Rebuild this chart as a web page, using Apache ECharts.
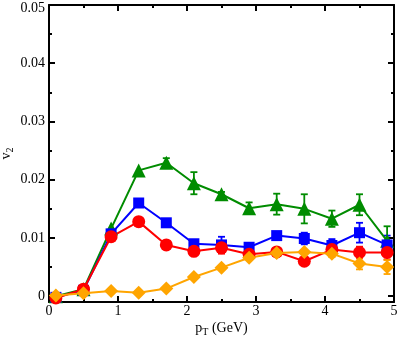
<!DOCTYPE html>
<html>
<head>
<meta charset="utf-8">
<script src="https://cdn.jsdelivr.net/npm/echarts@6/dist/echarts.min.js"></script>
<style>
    html, body {margin: 0; padding: 0; background: #fff;}
    #v2chart {width: 399px; height: 338px;}
</style>
</head>
<body>
<div id="v2chart"></div>
<script>
// pT bins (GeV)
let ptBins = [0.1, 0.5, 0.9, 1.3, 1.7, 2.1, 2.5, 2.9, 3.3, 3.7, 4.1, 4.5, 4.9];

// v2 values, with their vertical errors
let greenV2 = [0.0000, 0.0012, 0.0116, 0.0216, 0.0229, 0.0194, 0.0175, 0.0151, 0.0158, 0.0150, 0.0133, 0.0157, 0.0095];
let greenErr = [0, 0, 0, 0, 0.0008, 0.0019, 0.0004, 0.0010, 0.0018, 0.0025, 0.0014, 0.0018, 0.0025];
let blueV2 = [-0.0002, 0.0010, 0.0107, 0.0160, 0.0126, 0.0090, 0.0088, 0.0084, 0.0104, 0.0099, 0.0087, 0.0109, 0.0088];
let blueErr = [0, 0, 0, 0, 0, 0, 0.0014, 0, 0, 0.0010, 0.0011, 0.0017, 0.0016];
let redV2 = [-0.0003, 0.0012, 0.0102, 0.0128, 0.0088, 0.0077, 0.0083, 0.0072, 0.0076, 0.0060, 0.0080, 0.0075, 0.0075];
let redErr = [0, 0, 0, 0, 0, 0, 0.0010, 0, 0, 0, 0.0006, 0.0010, 0.0012];
let orangeV2 = [0.0001, 0.0005, 0.0009, 0.0006, 0.0013, 0.0033, 0.0049, 0.0066, 0.0074, 0.0076, 0.0073, 0.0056, 0.0050];
let orangeErr = [0, 0, 0, 0, 0, 0, 0, 0, 0, 0, 0.0006, 0.0010, 0.0012];

let yMajor = [0, 0.01, 0.02, 0.03, 0.04, 0.05];
let yMinor = [0.005, 0.015, 0.025, 0.035, 0.045];

let font = "Liberation Serif";

function pairs(vals) {
    return ptBins.map(function (x, i) {
        return [x, vals[i]];
    });
}

function errBars(vals, errs) {
    let out = [];
    ptBins.forEach(function (x, i) {
        if (errs[i] > 0) {
            out.push([x, vals[i] - errs[i], vals[i] + errs[i]]);
        }
    });
    return out;
}

function errSeries(vals, errs, color) {
    return {
        type: "custom",
        xAxisIndex: 0,
        yAxisIndex: 0,
        silent: true,
        z: 1,
        data: errBars(vals, errs),
        renderItem: function (params, api) {
            let lo = api.coord([api.value(0), api.value(1)]);
            let hi = api.coord([api.value(0), api.value(2)]);
            let w = 3.5;
            let st = {stroke: color, lineWidth: 1.8};
            return {
                type: "group",
                children: [
                    {type: "line", shape: {x1: lo[0], y1: lo[1], x2: hi[0], y2: hi[1]}, style: st},
                    {type: "line", shape: {x1: lo[0] - w, y1: lo[1], x2: lo[0] + w, y2: lo[1]}, style: st},
                    {type: "line", shape: {x1: hi[0] - w, y1: hi[1], x2: hi[0] + w, y2: hi[1]}, style: st}
                ]
            };
        }
    };
}

function lineSeries(vals, color, symbol, size) {
    return {
        type: "line",
        xAxisIndex: 0,
        yAxisIndex: 0,
        data: pairs(vals),
        symbol: symbol,
        symbolSize: size,
        showAllSymbol: true,
        z: 2,
        lineStyle: {color: color, width: 2},
        itemStyle: {color: color},
        emphasis: {disabled: true}
    };
}

function yAx(pos, ticks, len, labels) {
    return {
        type: "value",
        position: pos,
        min: -0.001,
        max: 0.05,
        axisLine: {show: labels !== null, onZero: false, lineStyle: {color: "#000", width: 2}},
        axisTick: {show: true, inside: true, length: len, customValues: ticks, lineStyle: {color: "#000", width: 2}},
        axisLabel: labels ? {
            show: true, customValues: labels, color: "#000", fontFamily: font, fontSize: 14, margin: 4,
            formatter: function (v) {
                if (v === 0) {
                    return "0";
                }
                // the top label sits a little lower so it stays inside the page
                return v > 0.045 ? "{t|" + v.toFixed(2) + "}" : v.toFixed(2);
            },
            rich: {t: {fontFamily: font, fontSize: 14, color: "#000", padding: [6, 0, 0, 0]}}
        } : {show: false},
        splitLine: {show: false}
    };
}

let chart = echarts.init(document.getElementById("v2chart"));
chart.setOption({
    animation: false,
    backgroundColor: "#fff",
    grid: {left: 49, right: 5, top: 5, bottom: 36, containLabel: false, outerBoundsMode: "none"},
    xAxis: [{
        type: "value",
        min: 0,
        max: 5,
        interval: 1,
        position: "bottom",
        name: "{a|p}{b|T}{a| (GeV)}",
        nameLocation: "middle",
        nameGap: 17,
        nameMoveOverlap: false,
        nameTextStyle: {
            rich: {
                a: {fontFamily: font, fontSize: 14, color: "#000"},
                b: {fontFamily: font, fontSize: 10, color: "#000", padding: [8, 0, 0, 0]}
            }
        },
        axisLine: {onZero: false, lineStyle: {color: "#000", width: 2}},
        axisTick: {inside: true, length: 6, lineStyle: {color: "#000", width: 2}},
        minorTick: {show: true, splitNumber: 2, length: 3, lineStyle: {color: "#000", width: 2}},
        axisLabel: {color: "#000", fontFamily: font, fontSize: 14, margin: 2},
        splitLine: {show: false},
        minorSplitLine: {show: false}
    }, {
        type: "value",
        min: 0,
        max: 5,
        interval: 1,
        position: "top",
        axisLine: {onZero: false, lineStyle: {color: "#000", width: 2}},
        axisTick: {inside: true, length: 6, lineStyle: {color: "#000", width: 2}},
        minorTick: {show: true, splitNumber: 2, length: 3, lineStyle: {color: "#000", width: 2}},
        axisLabel: {show: false},
        splitLine: {show: false}
    }],
    yAxis: [
        Object.assign(yAx("left", yMajor, 6, yMajor), {
            name: "{a|v}{c|2}",
            nameLocation: "middle",
            nameRotate: 90,
            nameGap: 34,
            nameMoveOverlap: false,
            nameTextStyle: {
                rich: {
                    a: {fontFamily: font, fontSize: 14, color: "#000"},
                    c: {fontFamily: font, fontSize: 10, color: "#000", padding: [8, 0, 0, 0]}
                }
            }
        }),
        yAx("left", yMinor, 3, null),
        yAx("right", yMajor, 6, []),
        yAx("right", yMinor, 3, null)
    ],
    series: [
        errSeries(greenV2, greenErr, "#008c00"),
        lineSeries(greenV2, "#008c00", "triangle", 14),
        errSeries(blueV2, blueErr, "#0000ff"),
        lineSeries(blueV2, "#0000ff", "rect", 11),
        errSeries(redV2, redErr, "#ff0000"),
        lineSeries(redV2, "#ff0000", "circle", 13),
        errSeries(orangeV2, orangeErr, "#ffa500"),
        lineSeries(orangeV2, "#ffa500", "diamond", 14)
    ]
});
</script>
</body>
</html>
